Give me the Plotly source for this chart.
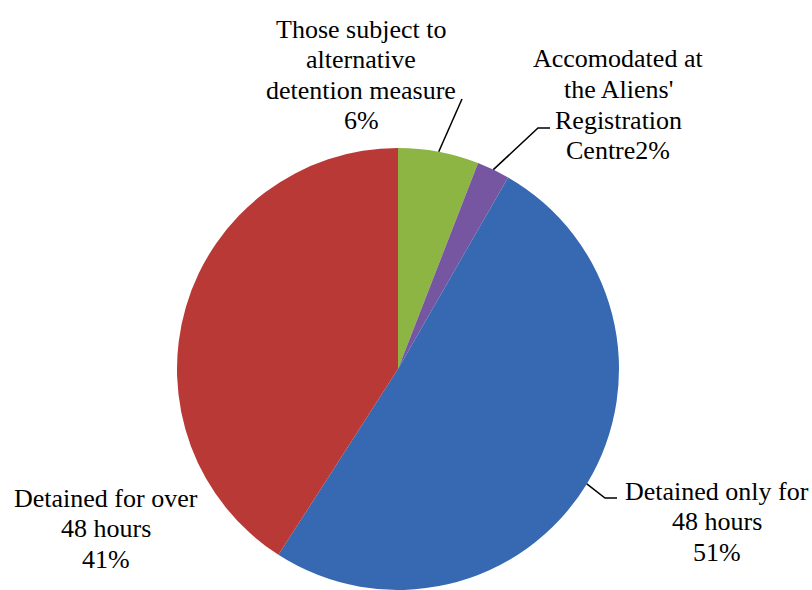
import math
import plotly.graph_objects as go

# slice data (clockwise from 12 o'clock)
labels = [["Those subject to", "alternative", "detention measure"],
          ["Accomodated at", "the Aliens'", "Registration", "Centre"],
          ["Detained only for", "48 hours"],
          ["Detained for over", "48 hours"]]
values = [5.9, 2.4, 50.8, 40.9]
colors = ["#8DB543", "#7656A1", "#3669B1", "#B83935"]
pct_on_new_line = [True, False, True, True]

W, H = 812, 590
cx, cy, r = 398, 369, 221
FONT = "Liberation Serif, Times New Roman, serif"
LINE_H = 30.5

def px(x):
    return x / W

def py(y):
    return 1 - y / H

fig = go.Figure(go.Pie(
    labels=[" ".join(l) for l in labels], values=values,
    sort=False, direction="clockwise", rotation=0,
    marker=dict(colors=colors, line=dict(width=0)),
    textinfo="none", showlegend=False,
    domain=dict(x=[px(cx - r), px(cx + r)], y=[py(cy + r), py(cy - r)]),
))

# label positions: (centre x, first line centre y) and leader-line elbows
text_pos = [(361, 29), (618, 59), (717, 491), (106, 498)]
elbows = [[(462, 99)], [(538, 128), (550, 128)], [(605, 498), (617, 498)], None]

total = sum(values)
cum = 0
for i, v in enumerate(values):
    mid = (cum + v / 2) / total * 2 * math.pi
    cum += v
    pct = f"{round(v / total * 100)}%"
    lines = list(labels[i])
    if pct_on_new_line[i]:
        lines.append(pct)
    else:
        lines[-1] += pct
    tx, ty = text_pos[i]
    for k, line in enumerate(lines):
        fig.add_annotation(x=px(tx), y=py(ty + k * LINE_H), xref="paper", yref="paper",
                           text=line, showarrow=False,
                           xanchor="center", yanchor="middle",
                           font=dict(family=FONT, size=26, color="black"))
    if elbows[i]:
        ax = cx + r * math.sin(mid)
        ay = cy - r * math.cos(mid)
        pts = [(ax, ay)] + elbows[i]
        path = "M " + " L ".join(f"{px(a)},{py(b)}" for a, b in pts)
        fig.add_shape(type="path", path=path, xref="paper", yref="paper",
                      line=dict(color="black", width=1.5))

fig.update_layout(width=W, height=H, margin=dict(l=0, r=0, t=0, b=0),
                  font=dict(family=FONT),
                  paper_bgcolor="white", plot_bgcolor="white")
fig.write_html("out.html", config={"displayModeBar": False},
               post_script="document.body.style.margin='0';")
